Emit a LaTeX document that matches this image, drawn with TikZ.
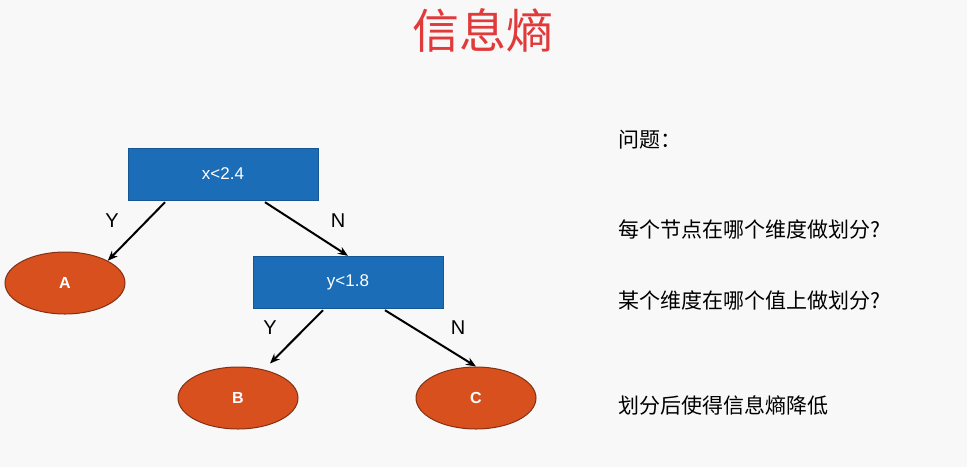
\documentclass[tikz,border=0pt]{standalone}
\usepackage{fontspec}
\setmainfont{Liberation Sans}
\newfontfamily\cjk{Noto Sans CJK SC}
\usetikzlibrary{shapes.geometric,calc,arrows.meta}
\definecolor{boxblue}{HTML}{1C6DB8}
\definecolor{ellred}{HTML}{D9501F}
\definecolor{titlered}{HTML}{E03A3A}
\definecolor{bg}{HTML}{F8F8F8}
\tikzset{
 dbox/.style={fill=boxblue,draw=boxblue!80!black,minimum width=190pt,minimum height=52pt,text=white,font=\fontsize{17}{20}\selectfont},
 leaf/.style={ellipse,fill=ellred,draw=ellred!60!black,line width=1pt,minimum width=120pt,minimum height=62pt,text=white,font=\bfseries\fontsize{16}{18}\selectfont},
 edge/.style={-{Stealth[length=10pt,width=8pt]},line width=2pt},
 lab/.style={font=\fontsize{20}{22}\selectfont},
 qtext/.style={anchor=west,font=\cjk\fontsize{21}{24}\selectfont}
}
\begin{document}
\begin{tikzpicture}[x=1pt,y=-1pt]
\fill[bg] (0,0) rectangle (967,467);
\useasboundingbox (0,0) rectangle (967,467);
\node[text=titlered,font=\cjk\fontsize{47}{50}\selectfont] (title) at (483,30) {信息熵};
\node[dbox] (b1) at (223,174) {x<2.4};
\node[dbox] (b2) at (348,282) {y<1.8};
\node[leaf] (a) at (65,283) {A};
\node[leaf] (b) at (238,398) {B};
\node[leaf] (c) at (476,398) {C};
\coordinate (b1l) at ($(b1.south)+(-58,2)$);
\coordinate (b1r) at ($(b1.south)+(42,2)$);
\coordinate (b2l) at ($(b2.south)+(-25,2)$);
\coordinate (b2r) at ($(b2.south)+(37,2)$);
\draw[edge] (b1l) -- (a.north east) ;
\draw[edge] (b1r) -- (b2.north) ;
\draw[edge] (b2l) -- ($(b.north)+(32,-3)$) coordinate (bt);
\draw[edge] (b2r) -- (c.north) ;
\node[lab] (y1) at (112,221) {Y};
\node[lab] (n1) at (338,221) {N};
\node[lab] (y2) at (270,328) {Y};
\node[lab] (n2) at (458,328) {N};
\node[qtext] (q0) at (615,140) {问题：};
\node[qtext] (q1) at (615,229) {每个节点在哪个维度做划分?};
\node[qtext] (q2) at (615,300) {某个维度在哪个值上做划分?};
\node[qtext] (q3) at (615,405) {划分后使得信息熵降低};
\end{tikzpicture}
\end{document}
